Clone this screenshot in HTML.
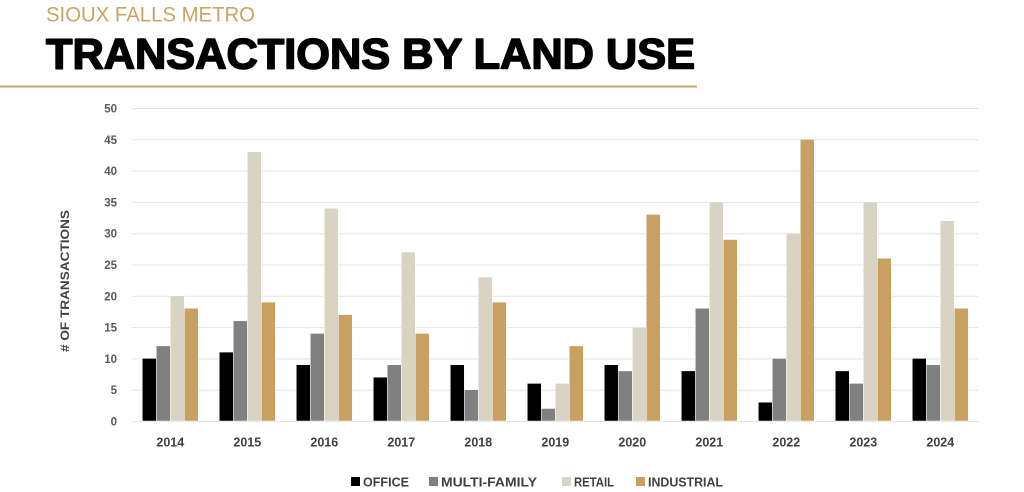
<!DOCTYPE html>
<html>
<head>
<meta charset="utf-8">
<style>
html,body{margin:0;padding:0;background:#fff;}
svg{display:block;}
</style>
</head>
<body>
<svg width="1024" height="492" viewBox="0 0 1024 492" xmlns="http://www.w3.org/2000/svg" font-family="Liberation Sans, sans-serif">
  <rect width="1024" height="492" fill="#fff"/>
  <!-- Header -->
  <text x="46" y="21.5" font-size="21" fill="#c9a466" textLength="209" lengthAdjust="spacingAndGlyphs">SIOUX FALLS METRO</text>
  <text x="46" y="68.5" font-size="42.5" font-weight="bold" fill="#000" stroke="#000" stroke-width="1.6" stroke-linejoin="round" textLength="649" lengthAdjust="spacingAndGlyphs">TRANSACTIONS BY LAND USE</text>
  <rect x="0" y="85.5" width="697" height="2" fill="#c9a466"/>

  <!-- Gridlines -->
  <g stroke="#e3e3e3" stroke-width="1">
    <line x1="132" x2="978.5" y1="108.5" y2="108.5"/>
    <line x1="132" x2="978.5" y1="139.8" y2="139.8"/>
    <line x1="132" x2="978.5" y1="171.1" y2="171.1"/>
    <line x1="132" x2="978.5" y1="202.4" y2="202.4"/>
    <line x1="132" x2="978.5" y1="233.7" y2="233.7"/>
    <line x1="132" x2="978.5" y1="265" y2="265"/>
    <line x1="132" x2="978.5" y1="296.3" y2="296.3"/>
    <line x1="132" x2="978.5" y1="327.6" y2="327.6"/>
    <line x1="132" x2="978.5" y1="358.9" y2="358.9"/>
    <line x1="132" x2="978.5" y1="390.2" y2="390.2"/>
    <line x1="132" x2="978.5" y1="421.5" y2="421.5"/>
  </g>

  <!-- Y tick labels -->
  <g font-size="11.5" font-weight="bold" fill="#595959" text-anchor="end">
    <text x="117" y="112.5">50</text>
    <text x="117" y="143.8">45</text>
    <text x="117" y="175.1">40</text>
    <text x="117" y="206.4">35</text>
    <text x="117" y="237.7">30</text>
    <text x="117" y="269">25</text>
    <text x="117" y="300.3">20</text>
    <text x="117" y="331.6">15</text>
    <text x="117" y="362.9">10</text>
    <text x="117" y="394.2">5</text>
    <text x="117" y="425.5">0</text>
  </g>

  <!-- Y axis title -->
  <text transform="translate(69,281) rotate(-90)" font-size="12" font-weight="bold" fill="#404040" text-anchor="middle" textLength="142" lengthAdjust="spacingAndGlyphs">#&#160;OF TRANSACTIONS</text>

  <!-- Bars -->
  <g stroke="#fff" stroke-width="0.5">
    <!-- 2014 -->
    <rect x="142.3" y="358.4" width="14" height="62.6" fill="#000"/>
    <rect x="156.3" y="345.9" width="14" height="75.1" fill="#808080"/>
    <rect x="170.3" y="295.8" width="14" height="125.2" fill="#d9d3c3"/>
    <rect x="184.3" y="308.3" width="14" height="112.7" fill="#c8a061"/>
    <!-- 2015 -->
    <rect x="219.3" y="352.1" width="14" height="68.9" fill="#000"/>
    <rect x="233.3" y="320.8" width="14" height="100.2" fill="#808080"/>
    <rect x="247.3" y="151.8" width="14" height="269.2" fill="#d9d3c3"/>
    <rect x="261.3" y="302.1" width="14" height="118.9" fill="#c8a061"/>
    <!-- 2016 -->
    <rect x="296.3" y="364.7" width="14" height="56.3" fill="#000"/>
    <rect x="310.3" y="333.4" width="14" height="87.6" fill="#808080"/>
    <rect x="324.3" y="208.2" width="14" height="212.8" fill="#d9d3c3"/>
    <rect x="338.3" y="314.6" width="14" height="106.4" fill="#c8a061"/>
    <!-- 2017 -->
    <rect x="373.3" y="377.2" width="14" height="43.8" fill="#000"/>
    <rect x="387.3" y="364.7" width="14" height="56.3" fill="#808080"/>
    <rect x="401.3" y="252" width="14" height="169" fill="#d9d3c3"/>
    <rect x="415.3" y="333.4" width="14" height="87.6" fill="#c8a061"/>
    <!-- 2018 -->
    <rect x="450.3" y="364.7" width="14" height="56.3" fill="#000"/>
    <rect x="464.3" y="389.7" width="14" height="31.3" fill="#808080"/>
    <rect x="478.3" y="277" width="14" height="144" fill="#d9d3c3"/>
    <rect x="492.3" y="302.1" width="14" height="118.9" fill="#c8a061"/>
    <!-- 2019 -->
    <rect x="527.3" y="383.4" width="14" height="37.6" fill="#000"/>
    <rect x="541.3" y="408.5" width="14" height="12.5" fill="#808080"/>
    <rect x="555.3" y="383.4" width="14" height="37.6" fill="#d9d3c3"/>
    <rect x="569.3" y="345.9" width="14" height="75.1" fill="#c8a061"/>
    <!-- 2020 -->
    <rect x="604.3" y="364.7" width="14" height="56.3" fill="#000"/>
    <rect x="618.3" y="370.9" width="14" height="50.1" fill="#808080"/>
    <rect x="632.3" y="327.1" width="14" height="93.9" fill="#d9d3c3"/>
    <rect x="646.3" y="214.4" width="14" height="206.6" fill="#c8a061"/>
    <!-- 2021 -->
    <rect x="681.3" y="370.9" width="14" height="50.1" fill="#000"/>
    <rect x="695.3" y="308.3" width="14" height="112.7" fill="#808080"/>
    <rect x="709.3" y="201.9" width="14" height="219.1" fill="#d9d3c3"/>
    <rect x="723.3" y="239.5" width="14" height="181.5" fill="#c8a061"/>
    <!-- 2022 -->
    <rect x="758.3" y="402.2" width="14" height="18.8" fill="#000"/>
    <rect x="772.3" y="358.4" width="14" height="62.6" fill="#808080"/>
    <rect x="786.3" y="233.2" width="14" height="187.8" fill="#d9d3c3"/>
    <rect x="800.3" y="139.3" width="14" height="281.7" fill="#c8a061"/>
    <!-- 2023 -->
    <rect x="835.3" y="370.9" width="14" height="50.1" fill="#000"/>
    <rect x="849.3" y="383.4" width="14" height="37.6" fill="#808080"/>
    <rect x="863.3" y="201.9" width="14" height="219.1" fill="#d9d3c3"/>
    <rect x="877.3" y="258.2" width="14" height="162.8" fill="#c8a061"/>
    <!-- 2024 -->
    <rect x="912.3" y="358.4" width="14" height="62.6" fill="#000"/>
    <rect x="926.3" y="364.7" width="14" height="56.3" fill="#808080"/>
    <rect x="940.3" y="220.7" width="14" height="200.3" fill="#d9d3c3"/>
    <rect x="954.3" y="308.3" width="14" height="112.7" fill="#c8a061"/>
  </g>

  <!-- X labels -->
  <g font-size="12.5" font-weight="bold" fill="#404040" text-anchor="middle">
    <text x="170.3" y="446.5">2014</text>
    <text x="247.3" y="446.5">2015</text>
    <text x="324.3" y="446.5">2016</text>
    <text x="401.3" y="446.5">2017</text>
    <text x="478.3" y="446.5">2018</text>
    <text x="555.3" y="446.5">2019</text>
    <text x="632.3" y="446.5">2020</text>
    <text x="709.3" y="446.5">2021</text>
    <text x="786.3" y="446.5">2022</text>
    <text x="863.3" y="446.5">2023</text>
    <text x="940.3" y="446.5">2024</text>
  </g>

  <!-- Legend -->
  <g font-size="12.5" font-weight="bold" fill="#404040">
    <rect x="351" y="477" width="9" height="9" fill="#000"/>
    <text x="363" y="486.5" textLength="46" lengthAdjust="spacingAndGlyphs">OFFICE</text>
    <rect x="429" y="477" width="9" height="9" fill="#808080"/>
    <text x="441" y="486.5" textLength="96" lengthAdjust="spacingAndGlyphs">MULTI-FAMILY</text>
    <rect x="562" y="477" width="9" height="9" fill="#d9d3c3"/>
    <text x="574" y="486.5" textLength="40" lengthAdjust="spacingAndGlyphs">RETAIL</text>
    <rect x="636" y="477" width="9" height="9" fill="#c8a061"/>
    <text x="648" y="486.5" textLength="75" lengthAdjust="spacingAndGlyphs">INDUSTRIAL</text>
  </g>
</svg>
</body>
</html>
